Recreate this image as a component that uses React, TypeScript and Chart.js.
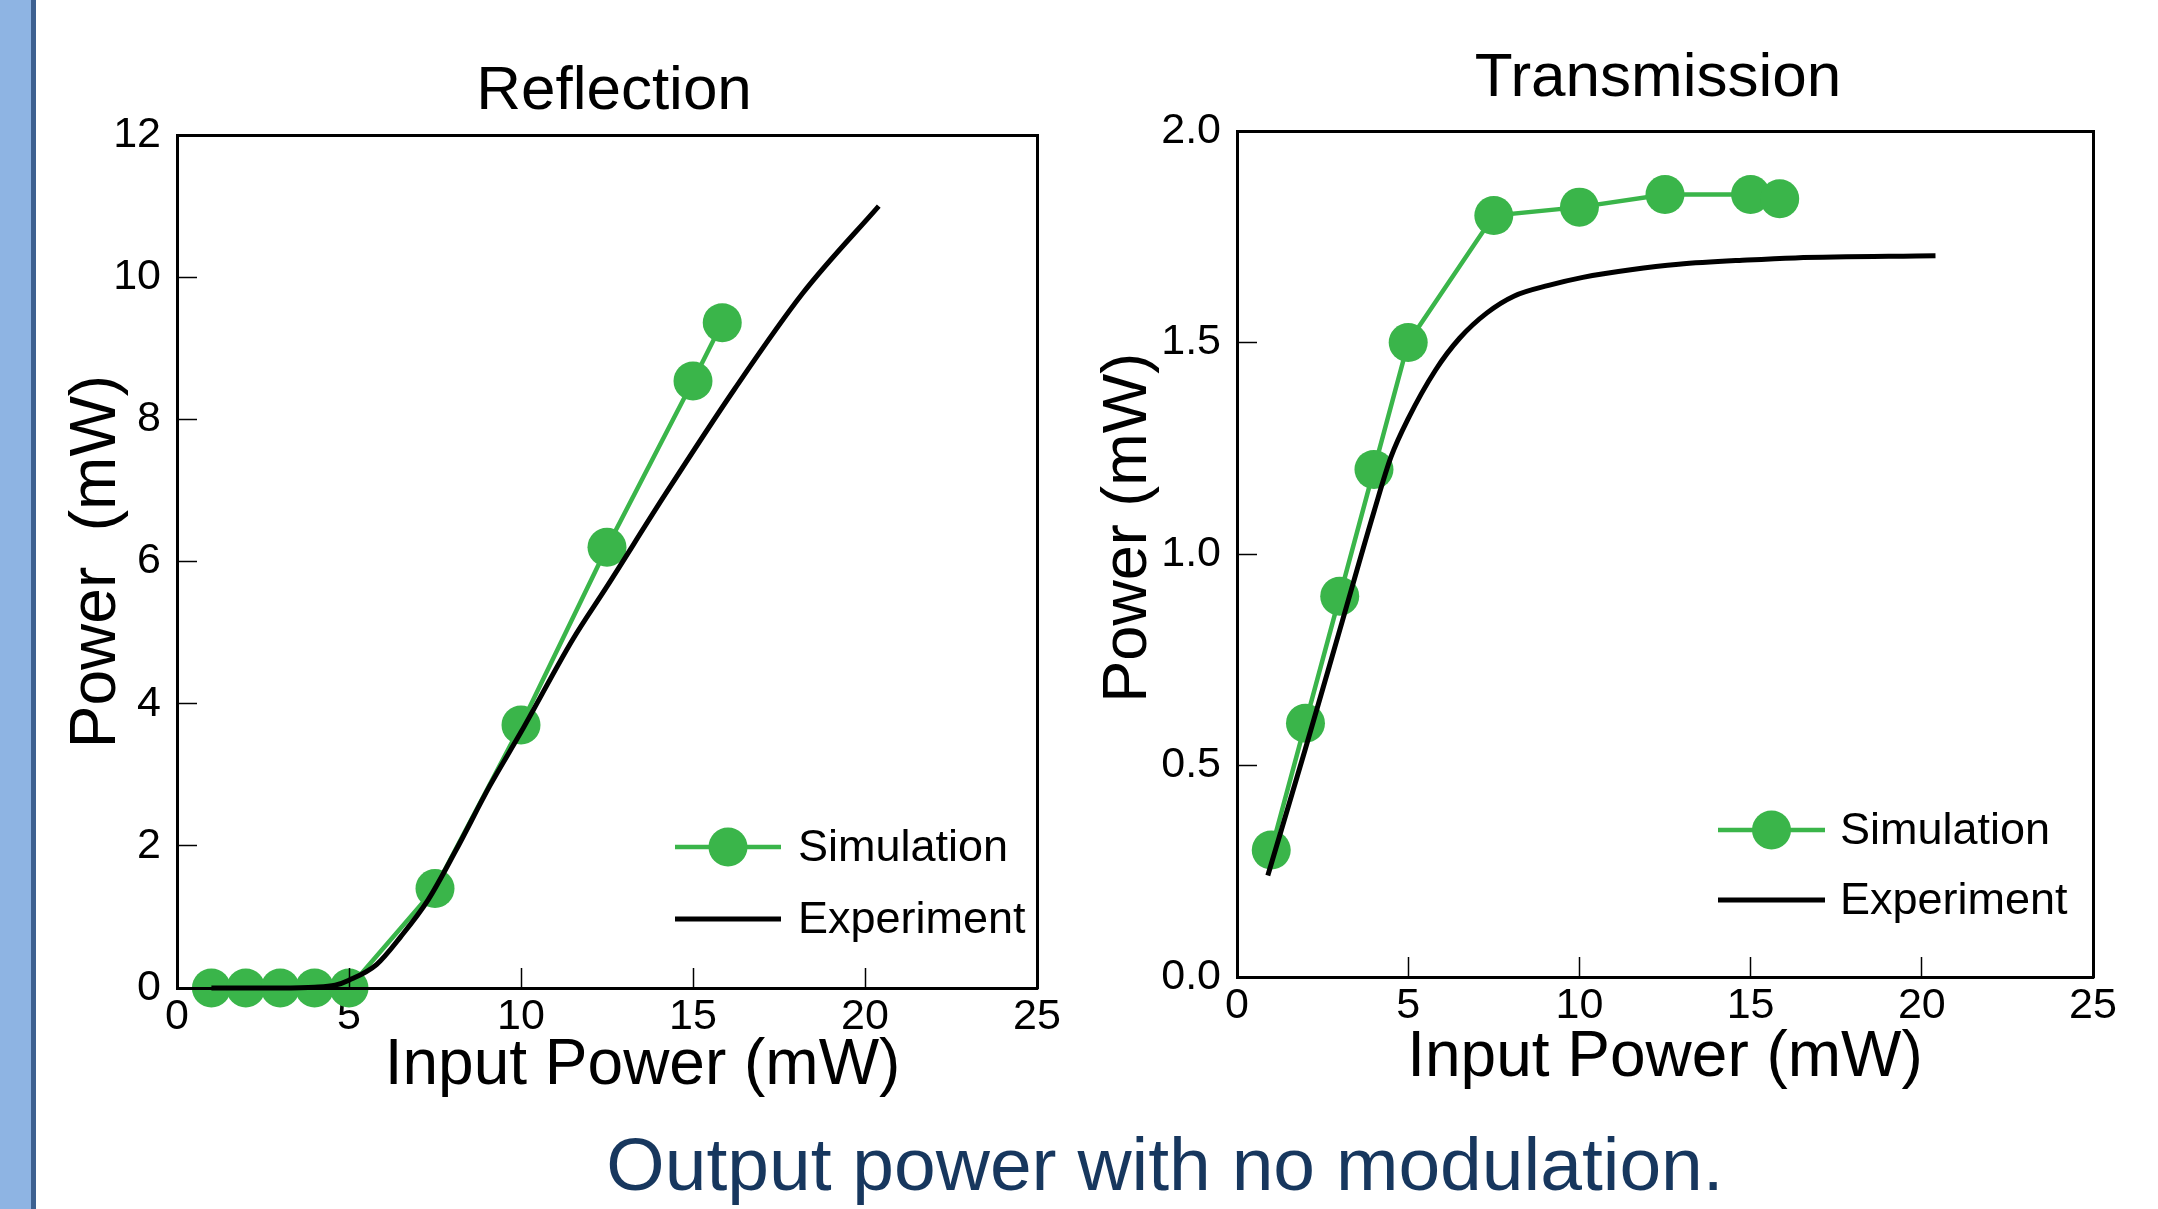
import React, { useEffect, useRef } from "react";
import { Chart, registerables } from "chart.js";

Chart.register(...registerables);

// ---------- data ----------
const seriesLabels = ["Simulation", "Experiment"];

const simInputPower = [1, 2, 3, 4, 5, 7.5, 10, 12.5, 15, 15.85];
const reflectionSim = [0, 0, 0, 0, 0, 1.4, 3.7, 6.2, 8.54, 9.36];
const transmissionSim = [0.3, 0.6, 0.9, 1.2, 1.5, 1.8, 1.82, 1.85, 1.85, 1.84];

const reflectionExpInput = [1, 2, 3, 4, 4.6, 5, 5.8, 6.5, 7.3, 8.1, 9.1, 10, 11.5, 12.5, 14.2, 16.2, 18.2, 20.4];
const reflectionExp = [0, 0, 0, 0.01, 0.04, 0.11, 0.33, 0.72, 1.24, 1.93, 2.85, 3.6, 4.9, 5.65, 6.95, 8.42, 9.78, 11.0];

const transmissionExpInput = [0.9, 2, 3, 4, 4.5, 5, 5.8, 6.5, 7.3, 8.1, 9.1, 10.1, 11.5, 12.9, 14.9, 16.3, 20.4];
const transmissionExp = [0.24, 0.54, 0.82, 1.1, 1.23, 1.32, 1.435, 1.51, 1.57, 1.61, 1.635, 1.654, 1.672, 1.685, 1.695, 1.7, 1.705];

const xTicks = [0, 5, 10, 15, 20, 25];
const xTickLabels = ["0", "5", "10", "15", "20", "25"];
const reflectionYTicks = [0, 2, 4, 6, 8, 10, 12];
const reflectionYTickLabels = ["0", "2", "4", "6", "8", "10", "12"];
const transmissionYTicks = [0, 0.5, 1, 1.5, 2];
const transmissionYTickLabels = ["0.0", "0.5", "1.0", "1.5", "2.0"];

// ---------- style ----------
const FONT = "'Liberation Sans', Arial, Helvetica, sans-serif";
const GREEN = "#3AB54A";
const CANVAS_W = 2400;
const CANVAS_H = 1209;

const insideLegend = {
  id: "insideLegend",
  afterDraw(chart: any, _args: any, opts: any) {
    const ctx = chart.ctx;
    ctx.save();
    chart.data.datasets.forEach((ds: any, i: number) => {
      const y = opts.y + i * opts.dy;
      ctx.strokeStyle = ds.borderColor;
      ctx.lineWidth = ds.borderWidth;
      ctx.lineCap = "butt";
      ctx.beginPath();
      ctx.moveTo(opts.x, y);
      ctx.lineTo(opts.x + opts.lineLength, y);
      ctx.stroke();
      if (ds.pointRadius > 0) {
        ctx.fillStyle = ds.pointBackgroundColor;
        ctx.beginPath();
        ctx.arc(opts.x + opts.lineLength / 2, y, ds.pointRadius, 0, Math.PI * 2);
        ctx.fill();
      }
      ctx.fillStyle = "#000";
      ctx.font = `${opts.fontSize}px ${FONT}`;
      ctx.textAlign = "left";
      ctx.textBaseline = "middle";
      ctx.fillText(ds.label, opts.x + opts.lineLength + opts.gap, y + opts.textShift);
    });
    ctx.restore();
  },
};

function valueAxis(
  position: string,
  min: number,
  max: number,
  values: number[],
  labels: string[],
  size: number,
  padding: number,
  title: any
) {
  const horizontal = position === "bottom";
  return {
    type: "linear",
    position,
    min,
    max,
    afterBuildTicks: (scale: any) => {
      scale.ticks = values.map((v) => ({ value: v }));
    },
    afterFit: (scale: any) => {
      if (horizontal) scale.height = size;
      else scale.width = size;
    },
    grid: {
      display: true,
      drawOnChartArea: false,
      drawTicks: true,
      tickLength: -20,
      tickWidth: 1.5,
      tickColor: "#000",
      color: "#000",
      z: 1,
    },
    border: { display: true, color: "#000", width: 3, z: 1 },
    ticks: {
      autoSkip: false,
      maxRotation: 0,
      minRotation: 0,
      padding,
      color: "#000",
      font: { family: FONT, size: 43 },
      callback: (_v: any, index: number) => labels[index],
    },
    title,
  };
}

function frameAxis(axis: string, position: string, min: number, max: number, size: number) {
  return {
    type: "linear",
    axis,
    position,
    min,
    max,
    afterFit: (scale: any) => {
      if (axis === "x") scale.height = size;
      else scale.width = size;
    },
    ticks: { display: false },
    grid: { display: false },
    border: { display: true, color: "#000", width: 3, z: 1 },
  };
}

function buildConfig(p: any) {
  return {
    type: "line",
    data: {
      datasets: [
        {
          label: seriesLabels[0],
          data: simInputPower.map((x, i) => ({ x, y: p.sim[i] })),
          borderColor: GREEN,
          backgroundColor: GREEN,
          pointBackgroundColor: GREEN,
          pointBorderColor: GREEN,
          pointBorderWidth: 0,
          pointRadius: 19.5,
          pointHoverRadius: 19.5,
          borderWidth: 4.5,
          tension: 0,
          clip: false,
          order: 2,
        },
        {
          label: seriesLabels[1],
          data: p.expX.map((x: number, i: number) => ({ x, y: p.exp[i] })),
          borderColor: "#000",
          backgroundColor: "#000",
          pointRadius: 0,
          pointHoverRadius: 0,
          borderWidth: 5,
          cubicInterpolationMode: "monotone",
          clip: false,
          order: 1,
        },
      ],
    },
    options: {
      responsive: false,
      animation: false,
      devicePixelRatio: 1,
      events: [],
      layout: { padding: p.layoutPadding },
      plugins: {
        legend: { display: false },
        tooltip: { enabled: false },
        title: {
          display: true,
          text: p.title,
          color: "#000",
          fullSize: true,
          font: { family: FONT, size: 62, weight: "normal" },
          padding: p.titlePadding,
        },
        insideLegend: p.legend,
      },
      scales: {
        x: valueAxis("bottom", 0, 25, xTicks, xTickLabels, 125, 23, {
          display: true,
          text: p.xTitle,
          color: "#000",
          font: { family: FONT, size: 64 },
          padding: { top: 0, bottom: p.xTitlePadBottom },
        }),
        y: valueAxis("left", p.yMin, p.yMax, p.yTicks, p.yTickLabels, 177, 36, {
          display: true,
          text: p.yTitle,
          color: "#000",
          font: { family: FONT, size: p.yTitleSize },
          padding: { top: p.yTitlePadTop, bottom: 0 },
        }),
        x2: frameAxis("x", "top", 0, 25, 0),
        y2: frameAxis("y", "right", p.yMin, p.yMax, p.rightWidth),
      },
    },
    plugins: [insideLegend],
  };
}

const reflectionParams = {
  title: "Reflection",
  sim: reflectionSim,
  expX: reflectionExpInput,
  exp: reflectionExp,
  yMin: 0,
  yMax: 12,
  yTicks: reflectionYTicks,
  yTickLabels: reflectionYTickLabels,
  xTitle: "    Input Power (mW)",
  yTitle: "Power  (mW)",
  yTitleSize: 64,
  yTitlePadTop: 59,
  xTitlePadBottom: 8.6,
  titlePadding: { top: 55, bottom: 5.6 },
  layoutPadding: { left: 0, right: 1172, top: 0, bottom: 96 },
  rightWidth: 191,
  legend: { x: 675, y: 847, dy: 72, lineLength: 106, gap: 17, fontSize: 45, textShift: 2 },
};

const transmissionParams = {
  title: "Transmission",
  sim: transmissionSim,
  expX: transmissionExpInput,
  exp: transmissionExp,
  yMin: 0,
  yMax: 2,
  yTicks: transmissionYTicks,
  yTickLabels: transmissionYTickLabels,
  xTitle: "Input Power (mW)",
  yTitle: "   Power (mW)",
  yTitleSize: 63,
  yTitlePadTop: 31,
  xTitlePadBottom: 5.6,
  titlePadding: { top: 42, bottom: 14.6 },
  layoutPadding: { left: 1060, right: 144, top: 0, bottom: 107 },
  rightWidth: 163,
  legend: { x: 1718, y: 830, dy: 70, lineLength: 107, gap: 15, fontSize: 45, textShift: 2 },
};

function ChartCanvas({ params }: { params: any }) {
  const ref = useRef<HTMLCanvasElement | null>(null);
  useEffect(() => {
    if (!ref.current) return;
    const chart = new Chart(ref.current, buildConfig(params) as any);
    return () => chart.destroy();
  }, [params]);
  return (
    <canvas
      ref={ref}
      width={CANVAS_W}
      height={CANVAS_H}
      style={{ position: "absolute", left: 0, top: 0 }}
    />
  );
}

export default function App() {
  return (
    <div
      style={{
        position: "absolute",
        left: 0,
        top: 0,
        width: 2158,
        height: 1209,
        overflow: "hidden",
        background: "#fff",
      }}
    >
      <div style={{ position: "absolute", left: 0, top: 0, width: 31, height: 1209, background: "#8EB4E3" }} />
      <div style={{ position: "absolute", left: 31, top: 0, width: 5, height: 1209, background: "#3D6191" }} />
      <ChartCanvas params={reflectionParams} />
      <ChartCanvas params={transmissionParams} />
      <div
        style={{
          position: "absolute",
          left: 165,
          top: 1127,
          width: 2000,
          textAlign: "center",
          fontFamily: FONT,
          fontSize: 75,
          lineHeight: "75px",
          color: "#17375E",
          whiteSpace: "nowrap",
        }}
      >
        Output power with no modulation.
      </div>
    </div>
  );
}
